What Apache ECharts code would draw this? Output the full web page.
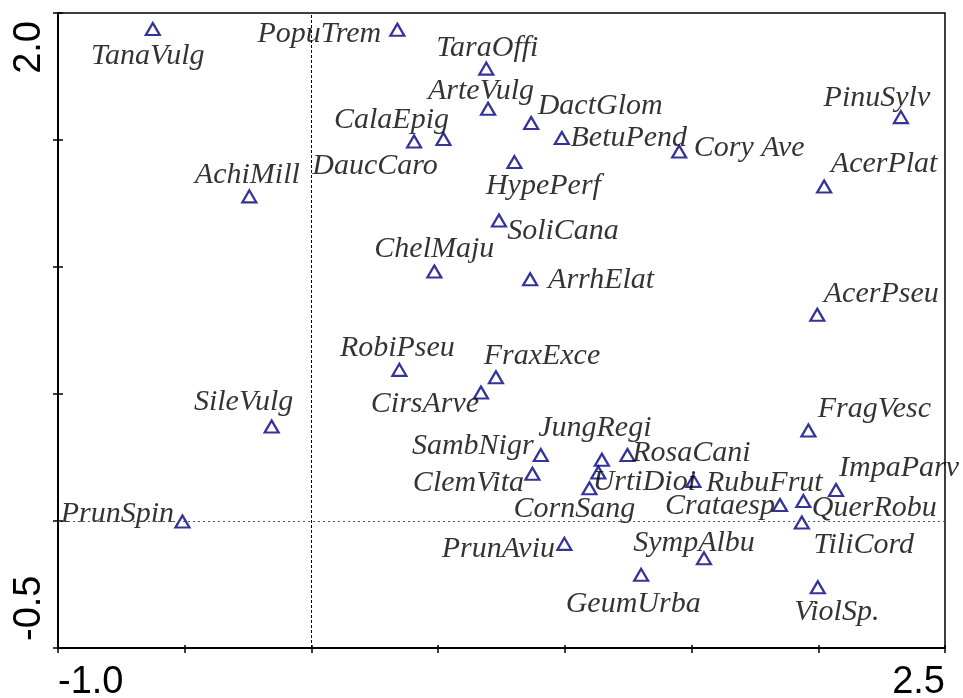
<!DOCTYPE html>
<html>
<head>
<meta charset="utf-8">
<script src="https://cdn.jsdelivr.net/npm/echarts@6/dist/echarts.min.js"></script>
<style>
  html, body { margin: 0; padding: 0; background: #fff; }
  #chart { width: 963px; height: 698px; }
</style>
</head>
<body>
<div id="chart"></div>
<script>
// species scores
var species = ['TanaVulg', 'PopuTrem', 'TaraOffi', 'ArteVulg', 'DactGlom', 'BetuPend', 'Cory Ave', 'PinuSylv',
  'AcerPlat', 'CalaEpig', 'DaucCaro', 'HypePerf', 'AchiMill', 'SoliCana', 'ChelMaju', 'ArrhElat',
  'AcerPseu', 'RobiPseu', 'FraxExce', 'CirsArve', 'SileVulg', 'FragVesc', 'SambNigr', 'JungRegi',
  'RosaCani', 'ClemVita', 'UrtiDioi', 'CornSang', 'RubuFrut', 'Crataesp', 'QuerRobu', 'ImpaParv',
  'TiliCord', 'PrunSpin', 'PrunAviu', 'SympAlbu', 'GeumUrba', 'ViolSp.'];
var axis1 = [-0.626, 0.339, 0.690, 0.697, 0.867, 0.988, 1.451, 2.326,
  2.023, 0.521, 0.405, 0.801, -0.245, 0.740, 0.485, 0.863,
  1.996, 0.347, 0.728, 0.669, -0.157, 1.961, 0.905, 1.146,
  1.247, 0.872, 1.132, 1.097, 1.507, 1.849, 1.941, 2.070,
  1.935, -0.509, 0.998, 1.549, 1.301, 1.998];
var axis2 = [1.937, 1.934, 1.781, 1.623, 1.567, 1.508, 1.455, 1.590,
  1.317, 1.504, 1.494, 1.413, 1.278, 1.183, 0.982, 0.952,
  0.812, 0.595, 0.566, 0.506, 0.372, 0.356, 0.260, 0.241,
  0.260, 0.186, 0.191, 0.129, 0.158, 0.063, 0.079, 0.122,
  -0.006, -0.002, -0.090, -0.147, -0.212, -0.261];
var xTicks = { min: -1.0, max: 2.5, step: 0.5 };
var yTicks = { min: -0.5, max: 2.0, step: 0.5 };

// where each name sits relative to its triangle (px)
var labelShift = [[-5, 27], [-78, 4], [1, -21], [-7, -18], [69, -17], [67, 0], [70, -3], [-24, -19],
  [60, -22], [-52, -19], [-39, 25], [29, 24], [-2, -21], [64, 11], [0, -22], [71, 1],
  [64, -21], [-2, -22], [46, -21], [-56, 12], [-28, -24], [66, -21], [-68, -9], [-7, -32],
  [64, -2], [-64, 9], [46, 10], [-15, 21], [71, 2], [-60, 1], [71, 7], [63, -22],
  [62, 23], [-65, -7], [-66, 5], [-10, -15], [-8, 29], [19, 25]];

var myChart = echarts.init(document.getElementById('chart'), null, { renderer: 'canvas' });

var pts = [];
for (var i = 0; i < species.length; i++) {
  pts.push({
    name: species[i],
    value: [axis1[i], axis2[i]],
    label: { offset: labelShift[i] }
  });
}

function endsOnly(min, max) {
  return function (v) {
    if (Math.abs(v - min) < 1e-9 || Math.abs(v - max) < 1e-9) return v.toFixed(1);
    return '';
  };
}

var tickFont = { fontFamily: 'Liberation Sans, Arial, sans-serif', fontSize: 38, color: '#000' };

var option = {
  animation: false,
  grid: {
    left: 58, right: 18, top: 13, bottom: 50,
    show: true, borderColor: '#000', borderWidth: 1.5,
    outerBoundsMode: 'none'
  },
  xAxis: [{
    type: 'value',
    min: xTicks.min, max: xTicks.max, interval: xTicks.step,
    splitLine: { show: false },
    axisLine: { onZero: false, lineStyle: { color: '#000', width: 2 } },
    axisTick: { length: 5, lineStyle: { color: '#000', width: 1.5 } },
    axisLabel: Object.assign({
      margin: 16,
      formatter: endsOnly(xTicks.min, xTicks.max),
      alignMinLabel: 'left',
      alignMaxLabel: 'right',
      showMinLabel: true, showMaxLabel: true
    }, tickFont)
  }, {
    // second copy only for the short inner ticks
    type: 'value', position: 'bottom',
    min: xTicks.min, max: xTicks.max, interval: xTicks.step,
    splitLine: { show: false },
    axisLine: { show: false, onZero: false },
    axisTick: { inside: true, length: 3, lineStyle: { color: '#000', width: 1.5 } },
    axisLabel: { show: false }
  }],
  yAxis: [{
    type: 'value',
    min: yTicks.min, max: yTicks.max, interval: yTicks.step,
    splitLine: { show: false },
    axisLine: { onZero: false, lineStyle: { color: '#000', width: 2 } },
    axisTick: { length: 5, lineStyle: { color: '#000', width: 1.5 } },
    axisLabel: Object.assign({
      rotate: 90,
      margin: 9,
      padding: [0, 8, 0, 7],
      formatter: endsOnly(yTicks.min, yTicks.max),
      alignMinLabel: 'left',
      alignMaxLabel: 'right',
      showMinLabel: true, showMaxLabel: true
    }, tickFont)
  }, {
    type: 'value', position: 'left',
    min: yTicks.min, max: yTicks.max, interval: yTicks.step,
    splitLine: { show: false },
    axisLine: { show: false, onZero: false },
    axisTick: { inside: true, length: 5, lineStyle: { color: '#000', width: 1.5 } },
    axisLabel: { show: false }
  }],
  series: [{
    type: 'scatter',
    symbol: 'triangle',
    symbolSize: [14, 12],
    itemStyle: { color: 'rgba(0,0,0,0)', borderColor: '#000080', borderWidth: 2.2 },
    label: {
      show: true,
      position: 'inside',
      formatter: '{b}',
      fontFamily: 'Liberation Serif, Times New Roman, serif',
      fontStyle: 'italic',
      fontSize: 30,
      color: '#000',
      textBorderWidth: 0
    },
    emphasis: { disabled: true },
    data: pts,
    markLine: {
      silent: true,
      symbol: 'none',
      label: { show: false },
      data: [
        { xAxis: 0, lineStyle: { type: [3, 2], color: '#000', width: 1 } },
        { yAxis: 0, lineStyle: { type: [2, 3], color: '#555', width: 1 } }
      ]
    }
  }]
};

myChart.setOption(option);
</script>
</body>
</html>
